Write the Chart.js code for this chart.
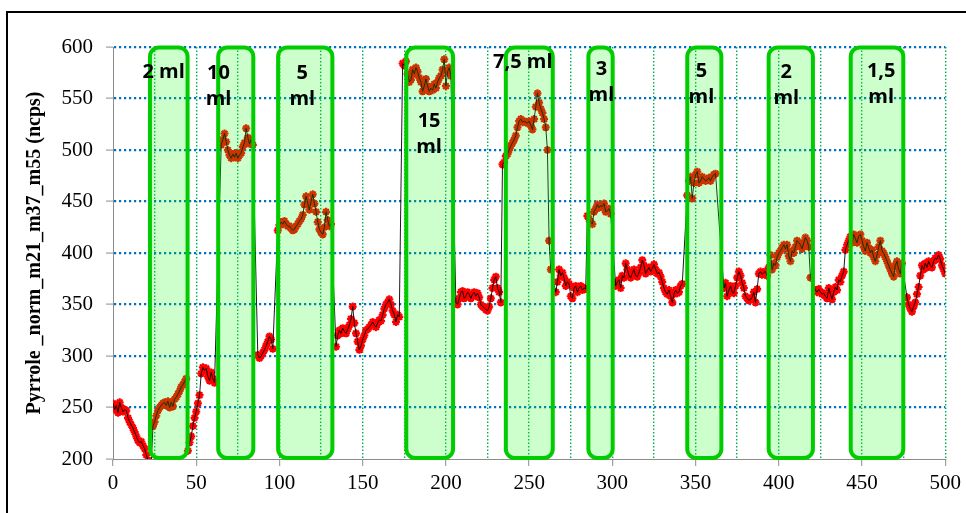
<!DOCTYPE html>
<html>
<head>
<meta charset="utf-8">
<script src="https://cdn.jsdelivr.net/npm/chart.js@4.4.1/dist/chart.umd.min.js"></script>
<style>
  html, body { margin: 0; padding: 0; background: #fff; overflow: hidden; }
  #wrap { position: relative; width: 966px; height: 513px; overflow: hidden; }
  #frame { position: absolute; left: 6px; top: 11px; width: 1200px; height: 800px; border: 2px solid #000; pointer-events: none; }
</style>
</head>
<body>
<div id="wrap">
  <canvas id="chart" width="966" height="513"></canvas>
  <div id="frame"></div>
</div>
<script>
// Measured signal, one sample per x unit, split in runs (gaps are where the trace jumps)
const segStarts = [0, 24, 45, 65, 87, 99, 134, 174, 206, 234, 266, 285, 302, 345, 367, 393, 422, 440, 477];
const segValues = [
  [254, 248, 252, 245, 255, 250, 246, 248, 247, 240, 236, 233, 230, 226, 222, 218, 216, 217, 213, 210, 204, 199, 196, 195],
  [232, 236, 242, 247, 250, 252, 254, 255, 252, 256, 250, 255, 251, 258, 260, 263, 266, 270, 272, 275, 278],
  [208, 216, 222, 232, 240, 246, 254, 262, 283, 289, 286, 288, 280, 276, 284, 278, 274],
  [505, 510, 516, 508, 500, 495, 492, 496, 493, 497, 492, 495, 497, 503, 507, 521, 512, 506, 510, 505],
  [301, 298, 300, 303, 306, 310, 314, 319, 316, 307],
  [422, 427, 430, 428, 431, 428, 426, 426, 424, 422, 423, 426, 428, 431, 433, 437, 447, 455, 448, 442, 450, 457, 448, 440, 430, 423, 420, 418, 425, 440, 432, 426, 428],
  [309, 320, 325, 322, 327, 324, 322, 326, 330, 336, 348, 332, 322, 314, 306, 310, 316, 320, 325, 326, 328, 330, 333, 330, 328, 332, 335, 334, 340, 346, 350, 352, 355, 350, 344, 340, 333, 340, 338],
  [584, 582, 586, 574, 566, 568, 578, 574, 580, 576, 570, 566, 557, 562, 569, 562, 557, 560, 558, 564, 560, 566, 570, 572, 578, 588, 562, 576, 580, 572],
  [352, 350, 356, 362, 363, 356, 358, 362, 360, 356, 360, 362, 358, 361, 357, 350, 348, 347, 345, 344, 348, 356, 366, 374, 377, 366, 362, 352],
  [486, 488, 494, 496, 500, 504, 507, 510, 514, 522, 528, 530, 527, 528, 527, 526, 528, 524, 520, 530, 542, 555, 546, 540, 536, 530, 522, 500, 412, 384],
  [362, 372, 384, 378, 381, 376, 368, 372, 370, 358, 356, 366, 368, 362, 366, 368, 364, 366, 365],
  [436, 433, 430, 428, 440, 443, 447, 444, 446, 445, 448, 440, 441, 443, 438],
  [368, 372, 374, 366, 378, 376, 390, 384, 378, 376, 380, 384, 378, 377, 381, 386, 393, 388, 380, 383, 386, 382, 385, 389, 384, 380, 381, 377, 372, 366, 362, 360, 364, 358, 352, 360, 364, 361, 362, 368, 370],
  [456, 470, 474, 453, 468, 476, 479, 468, 470, 474, 472, 470, 471, 473, 470, 474, 476, 477],
  [366, 371, 358, 364, 368, 362, 361, 368, 376, 382, 378, 371, 366, 358, 356, 354, 355, 357, 362, 352, 365, 380, 382, 379, 381, 382],
  [378, 386, 398, 384, 390, 388, 396, 400, 402, 405, 408, 404, 408, 397, 392, 402, 400, 406, 412, 410, 408, 404, 410, 415, 412, 406, 376],
  [364, 362, 365, 362, 360, 361, 358, 356, 366, 360, 355, 362, 367, 364, 374, 372, 378, 382],
  [403, 408, 412, 416, 410, 418, 414, 410, 416, 418, 412, 406, 402, 410, 405, 400, 403, 396, 392, 398, 406, 412, 402, 400, 396, 392, 388, 384, 380, 377, 388, 392, 384, 380, 390],
  [357, 350, 346, 343, 348, 352, 360, 367, 378, 388, 384, 390, 386, 392, 388, 386, 392, 395, 394, 398, 394, 388, 384, 380]
];

// Injection windows (x range) and their labels
const boxStart = [21, 62, 98, 175, 234.8, 284.4, 343.8, 392.7, 442];
const boxEnd = [46, 85.5, 133, 205.5, 265.4, 301.4, 366.7, 421.7, 476];
const boxTop = 601.5;
const boxBottom = 199;
const labelText = ['2 ml', '10\nml', '5\nml', '15\nml', '7,5 ml', '3\nml', '5\nml', '2\nml', '1,5\nml'];
const labelX = [30.4, 63.4, 113.7, 189.9, 246.2, 293.4, 353.5, 404.5, 461.5];
const labelY = [575, 574, 574, 528, 585, 578, 576, 575, 576];

// Axes
const xMin = 0, xMax = 500, xStep = 25, xLabelStep = 50;
const yMin = 200, yMax = 600, yStep = 50;

const points = [];
segStarts.forEach((start, i) => {
    segValues[i].forEach((v, j) => points.push({ x: start + j, y: v }));
});

function roundedRect(ctx, l, t, w, h, r) {
    ctx.beginPath();
    ctx.moveTo(l + r, t);
    ctx.lineTo(l + w - r, t);
    ctx.arcTo(l + w, t, l + w, t + r, r);
    ctx.lineTo(l + w, t + h - r);
    ctx.arcTo(l + w, t + h, l + w - r, t + h, r);
    ctx.lineTo(l + r, t + h);
    ctx.arcTo(l, t + h, l, t + h - r, r);
    ctx.lineTo(l, t + r);
    ctx.arcTo(l, t, l + r, t, r);
    ctx.closePath();
}

const injectionBoxes = {
    id: 'injectionBoxes',
    afterDatasetsDraw(chart) {
        const { ctx, scales: { x, y } } = chart;
        const lw = 4;
        ctx.save();
        boxStart.forEach((b, i) => {
            const l = x.getPixelForValue(b) + lw / 2;
            const r = x.getPixelForValue(boxEnd[i]) - lw / 2;
            const t = y.getPixelForValue(boxTop) + lw / 2;
            const btm = y.getPixelForValue(boxBottom) - lw / 2;
            roundedRect(ctx, l, t, r - l, btm - t, 9);
            ctx.fillStyle = 'rgba(0, 255, 0, 0.2)';
            ctx.fill();
            ctx.lineWidth = lw;
            ctx.strokeStyle = '#00cc00';
            ctx.stroke();
        });

        ctx.fillStyle = '#000';
        ctx.font = 'bold 20px "Open Sans"';
        ctx.textAlign = 'center';
        ctx.textBaseline = 'middle';
        labelText.forEach((txt, i) => {
            const px = x.getPixelForValue(labelX[i]);
            const py = y.getPixelForValue(labelY[i]);
            txt.split('\n').forEach((line, k) => ctx.fillText(line, px, py + k * 26));
        });
        ctx.restore();
    }
};

const tickFont = { family: '"Liberation Serif", "Times New Roman", serif', size: 21 };

new Chart(document.getElementById('chart').getContext('2d'), {
    type: 'line',
    data: {
        datasets: [{
            // thin trace on top
            data: points,
            borderColor: '#000',
            borderWidth: 0.9,
            pointRadius: 0,
            fill: false,
            tension: 0,
            order: 0
        }, {
            // red markers underneath
            data: points,
            showLine: false,
            pointStyle: 'star',
            pointRadius: 4,
            pointBorderWidth: 2.2,
            pointBorderColor: '#ff0000',
            pointBackgroundColor: '#ff0000',
            order: 1
        }]
    },
    options: {
        responsive: false,
        animation: false,
        devicePixelRatio: 1,
        layout: { padding: { left: 0, right: 19, top: 47, bottom: 0 } },
        plugins: {
            legend: { display: false },
            tooltip: { enabled: false }
        },
        scales: {
            x: {
                type: 'linear',
                min: xMin,
                max: xMax,
                afterFit: s => { s.height = 54; },
                ticks: {
                    stepSize: xStep,
                    autoSkip: false,
                    maxRotation: 0,
                    padding: 5,
                    color: '#000',
                    font: tickFont,
                    callback: v => (v % xLabelStep === 0 ? v : '')
                },
                grid: {
                    color: c => (c.tick && c.tick.value > xMin ? '#00b050' : 'rgba(0,0,0,0)'),
                    lineWidth: 1.4,
                    tickLength: 7,
                    tickWidth: 1,
                    tickColor: c => (c.tick && c.tick.value % xLabelStep === 0 ? '#8c8c8c' : 'rgba(0,0,0,0)')
                },
                border: { color: '#8c8c8c', width: 1, dash: [1.5, 2] }
            },
            y: {
                min: yMin,
                max: yMax,
                afterFit: s => { s.width = 113; },
                ticks: {
                    stepSize: yStep,
                    padding: 13,
                    color: '#000',
                    font: tickFont
                },
                grid: {
                    color: c => (c.tick && c.tick.value > yMin ? '#0070c0' : 'rgba(0,0,0,0)'),
                    lineWidth: 2.2,
                    tickLength: 7,
                    tickWidth: 1,
                    tickColor: '#8c8c8c'
                },
                border: { color: '#8c8c8c', width: 1, dash: [2.2, 2.8] },
                title: {
                    display: true,
                    text: 'Pyrrole _norm_m21_m37_m55 (ncps)',
                    color: '#000',
                    font: { family: '"Liberation Serif", "Times New Roman", serif', size: 20, weight: 'bold' },
                    padding: { top: 23, bottom: 0 }
                }
            }
        }
    },
    plugins: [injectionBoxes]
});
</script>
</body>
</html>
